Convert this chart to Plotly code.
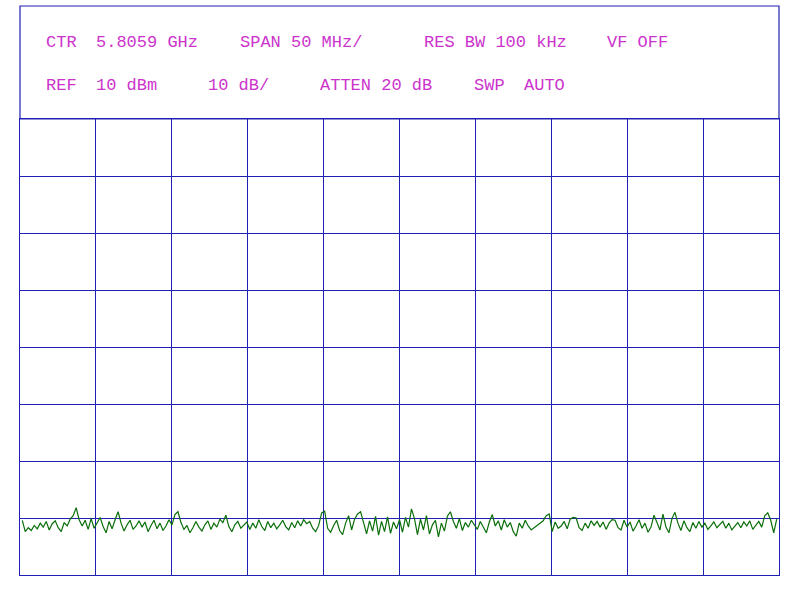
import numpy as np
import plotly.graph_objects as go

# Trace amplitude readings (dBm), left to right across the sweep
trace_dbm = [
    -60.4,-62.4,-61.7,-62.2,-61.3,-61.9,-60.9,-61.6,-60.6,-62.1,-61.0,-60.5,-61.7,-62.4,-60.8,-61.4,-60.2,-59.6,-58.2,-60.3,
    -61.4,-60.4,-62.0,-60.1,-61.8,-60.8,-59.9,-61.5,-62.6,-60.6,-61.9,-60.3,-58.9,-60.9,-62.3,-61.2,-60.4,-62.0,-61.4,-60.5,
    -61.6,-60.7,-62.4,-61.3,-60.4,-61.9,-60.9,-62.2,-61.4,-60.3,-61.2,-59.4,-58.9,-60.8,-62.0,-61.3,-62.6,-61.7,-60.6,-61.6,
    -62.3,-61.2,-60.5,-62.0,-60.9,-61.6,-60.2,-60.8,-59.5,-61.5,-62.4,-61.2,-60.6,-61.8,-61.3,-60.7,-62.0,-60.9,-61.8,-60.3,
    -61.5,-62.2,-60.6,-61.7,-60.9,-61.9,-61.2,-60.4,-61.5,-62.1,-60.8,-61.7,-60.5,-61.4,-60.3,-61.0,-60.6,-61.8,-62.4,-61.3,
    -59.1,-58.8,-61.8,-62.5,-61.3,-60.4,-62.2,-62.9,-60.9,-59.6,-62.1,-60.2,-59.3,-58.9,-60.8,-62.8,-60.5,-62.3,-59.7,-63.0,
    -60.6,-62.4,-59.8,-62.7,-60.7,-61.9,-60.3,-62.5,-59.9,-61.6,-58.4,-60.1,-62.9,-60.2,-62.1,-59.6,-62.8,-61.2,-60.4,-63.3,
    -60.9,-62.3,-59.7,-58.9,-60.6,-61.8,-60.1,-62.2,-60.8,-61.6,-60.4,-61.3,-62.0,-60.6,-61.7,-62.6,-60.7,-59.4,-61.4,-60.5,
    -62.1,-60.3,-61.6,-60.8,-62.4,-63.2,-60.9,-61.8,-60.4,-61.4,-62.1,-61.7,-61.3,-60.8,-60.5,-59.6,-59.3,-62.4,-60.7,-61.8,
    -61.4,-60.6,-61.9,-60.2,-59.9,-60.0,-61.7,-62.2,-60.9,-61.8,-60.5,-61.3,-60.6,-61.6,-60.7,-62.0,-60.9,-60.3,-60.4,-61.7,
    -62.1,-60.4,-61.6,-60.7,-62.3,-61.4,-60.3,-61.8,-60.9,-62.5,-61.6,-59.5,-60.8,-62.1,-59.3,-61.6,-62.6,-60.1,-59.0,-60.9,
    -62.2,-60.5,-61.7,-62.4,-60.8,-61.8,-60.6,-61.6,-60.9,-62.0,-61.4,-60.7,-61.7,-61.2,-60.6,-61.8,-60.9,-62.1,-61.5,-60.8,
    -61.7,-60.7,-61.4,-60.5,-62.0,-61.2,-60.6,-61.6,-59.6,-59.1,-60.4,-62.6,-60.2,
]

# Header readouts (text, row, left edge in px)
header_texts = ["CTR", "5.8059 GHz", "SPAN 50 MHz/", "RES BW 100 kHz", "VF OFF",
                "REF", "10 dBm", "10 dB/", "ATTEN 20 dB", "SWP", "AUTO"]
header_rows = [0, 0, 0, 0, 0, 1, 1, 1, 1, 1, 1]
header_px = [45, 95, 239, 423, 606, 45, 95, 207, 319, 473, 523]

ref_level = 10
db_per_div = 10
n_div_y = 8
n_div_x = 10

# sweep positions in divisions
sweep_x = np.linspace(0.03, n_div_x - 0.03, len(trace_dbm))

W, H = 800, 600
L, R, T, B = 20, 21, 119, 25
plot_w = W - L - R
plot_h = H - T - B

grid_col = "#2020b4"
text_col = "#cc33cc"

fig = go.Figure()
fig.add_trace(go.Scatter(x=sweep_x, y=trace_dbm, mode="lines",
                         line=dict(color="#0a6e0a", width=1.2), hoverinfo="skip"))

fig.update_xaxes(range=[0, n_div_x], dtick=1, tick0=0, showgrid=True, gridcolor=grid_col,
                 gridwidth=1, showticklabels=False, zeroline=False, showline=True,
                 linecolor=grid_col, linewidth=1, mirror=True, ticks="")
fig.update_yaxes(range=[ref_level - n_div_y * db_per_div, ref_level], dtick=db_per_div,
                 tick0=ref_level, showgrid=True, gridcolor=grid_col, gridwidth=1,
                 showticklabels=False, zeroline=False, showline=True, linecolor=grid_col,
                 linewidth=1, mirror=True, ticks="")

# header box
fig.add_shape(type="rect", xref="paper", yref="paper", x0=0, x1=1, y0=1,
              y1=1 + (T - 6) / plot_h, line=dict(color=grid_col, width=1.2))

row_py = [43, 86]
for txt, r, px in zip(header_texts, header_rows, header_px):
    fig.add_annotation(text=txt, xref="paper", yref="paper",
                       x=(px - 1 - L) / plot_w, y=(H - B - row_py[r]) / plot_h,
                       xanchor="left", yanchor="middle", showarrow=False,
                       font=dict(family="Liberation Mono", size=17, color=text_col))

fig.update_layout(width=W, height=H, margin=dict(l=L, r=R, t=T, b=B, pad=0),
                  paper_bgcolor="white", plot_bgcolor="white", showlegend=False)

fig.write_html("out.html", config={"displayModeBar": False},
               post_script="document.body.style.margin='0px';document.body.style.overflow='hidden';")
